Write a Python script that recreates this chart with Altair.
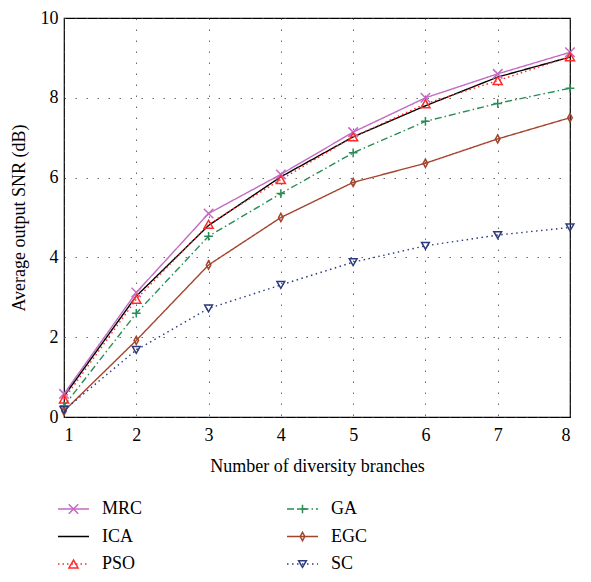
import altair as alt
import pandas as pd

branches = [1, 2, 3, 4, 5, 6, 7, 8]
series_names = ["MRC", "ICA", "PSO", "GA", "EGC", "SC"]
mrc = [0.58, 3.12, 5.10, 6.08, 7.14, 8.00, 8.60, 9.14]
ica = [0.52, 3.03, 4.80, 6.02, 7.02, 7.80, 8.52, 9.02]
pso = [0.45, 2.95, 4.83, 5.95, 7.02, 7.85, 8.43, 9.03]
ga = [0.28, 2.60, 4.53, 5.60, 6.62, 7.41, 7.86, 8.24]
egc = [0.15, 1.92, 3.81, 5.00, 5.88, 6.36, 6.97, 7.50]
sc = [0.17, 1.68, 2.72, 3.31, 3.88, 4.29, 4.56, 4.75]
y_ticks = [0, 2, 4, 6, 8, 10]

colors = ["#c46ac4", "#000000", "#ff2a2a", "#2a8c55", "#a3442c", "#2b3b7e"]
dashes = [[1, 0], [1, 0], [1.5, 3], [7, 3, 1.5, 3], [1, 0], [1.5, 3.5]]
marker_series = ["MRC", "PSO", "GA", "EGC", "SC"]
marker_shapes = [
    "M-1,-1L1,1M-1,1L1,-1",
    "triangle-up",
    "M-1,0L1,0M0,-1L0,1",
    "M0,-1L0.55,0L0,1L-0.55,0Z",
    "triangle-down",
]
marker_sizes = [90, 60, 190, 64, 55]
legend_col = [0, 0, 0, 1, 1, 1]
legend_row = [0, 1, 2, 0, 1, 2]

FONT = "Liberation Serif"

values = [mrc, ica, pso, ga, egc, sc]
rows = []
for name, vals in zip(series_names, values):
    for b, v in zip(branches, vals):
        rows.append({"series": name, "branches": b, "snr": v})
df = pd.DataFrame(rows)

color_scale = alt.Scale(domain=series_names, range=colors)
dash_scale = alt.Scale(domain=series_names, range=dashes)
shape_scale = alt.Scale(domain=marker_series, range=marker_shapes)
size_scale = alt.Scale(domain=marker_series, range=marker_sizes)

x_enc = alt.X("branches:Q", scale=alt.Scale(domain=[1, 8], nice=False),
              axis=alt.Axis(values=branches, title="Number of diversity branches",
                            format="d", grid=True, labelPadding=9, titlePadding=13))
y_enc = alt.Y("snr:Q", scale=alt.Scale(domain=[0, 10], nice=False),
              axis=alt.Axis(values=y_ticks, title="Average output SNR (dB)",
                            format="d", grid=True))

lines = alt.Chart(df).mark_line(strokeWidth=1.4).encode(
    x=x_enc, y=y_enc,
    color=alt.Color("series:N", scale=color_scale, legend=None),
    strokeDash=alt.StrokeDash("series:N", scale=dash_scale, legend=None),
    detail="series:N",
)
points = alt.Chart(df).transform_filter(
    alt.FieldOneOfPredicate(field="series", oneOf=marker_series)
).mark_point(filled=False, strokeWidth=1.5, opacity=1).encode(
    x="branches:Q", y="snr:Q",
    color=alt.Color("series:N", scale=color_scale, legend=None),
    shape=alt.Shape("series:N", scale=shape_scale, legend=None),
    size=alt.Size("series:N", scale=size_scale, legend=None),
)
main = alt.layer(lines, points).properties(
    width=506, height=399,
    view=alt.ViewBackground(stroke="#000000", strokeWidth=1.2),
)

leg_df = pd.DataFrame({"series": series_names, "col": legend_col, "row": legend_row})
lx = alt.X("col:Q", scale=alt.Scale(domain=[0, 1], range=[-6, 223]), axis=None)
ly = alt.Y("row:Q", scale=alt.Scale(domain=[0, 2], range=[10, 65]), axis=None)
leg_lines = alt.Chart(leg_df).mark_rule(strokeWidth=1.4, x2Offset=31).encode(
    x=lx, x2="col:Q", y=ly,
    color=alt.Color("series:N", scale=color_scale, legend=None),
    strokeDash=alt.StrokeDash("series:N", scale=dash_scale, legend=None),
)
leg_points = alt.Chart(leg_df).transform_filter(
    alt.FieldOneOfPredicate(field="series", oneOf=marker_series)
).mark_point(filled=False, strokeWidth=1.5, opacity=1, xOffset=15.5).encode(
    x=lx, y=ly,
    color=alt.Color("series:N", scale=color_scale, legend=None),
    shape=alt.Shape("series:N", scale=shape_scale, legend=None),
    size=alt.Size("series:N", scale=size_scale, legend=None),
)
leg_text = alt.Chart(leg_df).mark_text(
    align="left", baseline="middle", xOffset=44, font=FONT, fontSize=18, color="#000000"
).encode(x=lx, y=ly, text="series:N")
legend = alt.layer(leg_lines, leg_points, leg_text).properties(
    width=506, height=67,
    view=alt.ViewBackground(stroke="transparent"),
)

chart = alt.vconcat(main, legend, spacing=22).properties(
    padding={"left": 1, "top": 0, "right": 0, "bottom": 0}
).configure_axis(
    labelFont=FONT, labelFontSize=18, labelColor="#000000",
    titleFont=FONT, titleFontSize=18, titleFontWeight="normal", titleColor="#000000",
    domain=False, ticks=False, labelPadding=6,
    gridColor="#444444", gridDash=[1.5, 9.5], gridWidth=1, gridOpacity=0.8,
).configure_axisY(titlePadding=12)

chart.save("out.html", embed_options={"renderer": "svg", "actions": False})
